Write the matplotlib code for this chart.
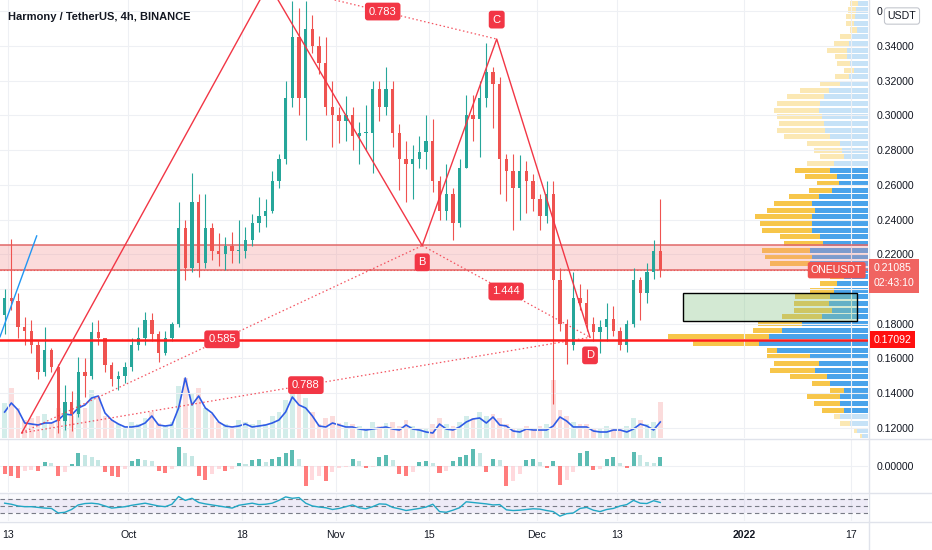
import numpy as np
import pandas as pd
import matplotlib
matplotlib.use('Agg')
import matplotlib.pyplot as plt
from matplotlib.patches import Rectangle
from matplotlib.ticker import FuncFormatter
from matplotlib.transforms import blended_transform_factory

plt.rcParams['font.family'] = ['Liberation Sans', 'DejaVu Sans']

# ── Data (daily bars, day 0 = 13 Sep 2021) ─────────────────────────────────
ORIGIN = pd.Timestamp('2021-09-13')
FIRST_DAY = -1
FIRST_OPEN = 0.185

highs = [0.200, 0.229, 0.198, 0.184, 0.182, 0.170, 0.178, 0.166, 0.157, 0.145,
         0.141, 0.161, 0.160, 0.181, 0.182, 0.172, 0.158, 0.153, 0.158, 0.172,
         0.178, 0.187, 0.186, 0.176, 0.176, 0.181, 0.250, 0.240, 0.267, 0.255,
         0.255, 0.238, 0.232, 0.230, 0.233, 0.240, 0.236, 0.243, 0.253, 0.252,
         0.268, 0.278, 0.320, 0.366, 0.362, 0.366, 0.358, 0.346, 0.345, 0.320,
         0.305, 0.311, 0.305, 0.296, 0.306, 0.320, 0.320, 0.328, 0.320, 0.295,
         0.285, 0.283, 0.288, 0.300, 0.298, 0.265, 0.272, 0.258, 0.275, 0.312,
         0.312, 0.320, 0.342, 0.328, 0.322, 0.278, 0.278, 0.277, 0.274, 0.266,
         0.255, 0.262, 0.262, 0.212, 0.183, 0.210, 0.203, 0.200, 0.184, 0.182,
         0.192, 0.190, 0.178, 0.182, 0.212, 0.207, 0.215, 0.228, 0.252]
lows = [0.174, 0.188, 0.172, 0.168, 0.163, 0.148, 0.150, 0.152, 0.117, 0.119,
        0.118, 0.126, 0.138, 0.148, 0.168, 0.152, 0.144, 0.142, 0.146, 0.153,
        0.165, 0.168, 0.170, 0.158, 0.162, 0.170, 0.178, 0.205, 0.210, 0.207,
        0.212, 0.217, 0.213, 0.211, 0.215, 0.215, 0.218, 0.225, 0.233, 0.236,
        0.244, 0.258, 0.272, 0.305, 0.300, 0.286, 0.336, 0.324, 0.300, 0.282,
        0.284, 0.285, 0.280, 0.272, 0.280, 0.267, 0.297, 0.300, 0.282, 0.257,
        0.250, 0.252, 0.270, 0.269, 0.256, 0.240, 0.240, 0.228, 0.236, 0.270,
        0.285, 0.276, 0.305, 0.293, 0.255, 0.251, 0.234, 0.240, 0.244, 0.245,
        0.234, 0.238, 0.134, 0.176, 0.157, 0.165, 0.188, 0.176, 0.170, 0.163,
        0.170, 0.173, 0.165, 0.164, 0.178, 0.182, 0.192, 0.206, 0.207]
closes = [0.195, 0.193, 0.178, 0.176, 0.168, 0.152, 0.165, 0.155, 0.124, 0.135,
          0.128, 0.152, 0.150, 0.175, 0.172, 0.156, 0.148, 0.150, 0.155, 0.168,
          0.172, 0.182, 0.174, 0.163, 0.172, 0.180, 0.235, 0.212, 0.250, 0.215,
          0.235, 0.222, 0.220, 0.225, 0.222, 0.222, 0.228, 0.238, 0.242, 0.245,
          0.262, 0.275, 0.310, 0.345, 0.310, 0.350, 0.340, 0.330, 0.305, 0.300,
          0.297, 0.300, 0.288, 0.290, 0.290, 0.315, 0.305, 0.315, 0.290, 0.275,
          0.272, 0.275, 0.279, 0.285, 0.262, 0.245, 0.255, 0.238, 0.270, 0.300,
          0.298, 0.310, 0.325, 0.318, 0.275, 0.268, 0.258, 0.268, 0.262, 0.252,
          0.242, 0.255, 0.205, 0.180, 0.168, 0.195, 0.192, 0.180, 0.175, 0.178,
          0.183, 0.176, 0.168, 0.180, 0.205, 0.198, 0.210, 0.222, 0.21085]

volume = [35, 50, 30, 18, 20, 22, 24, 16, 30, 32,
          22, 38, 30, 48, 40, 22, 18, 14, 12, 16,
          14, 20, 26, 15, 12, 16, 52, 60, 45, 50,
          30, 24, 16, 14, 12, 18, 16, 14, 18, 14,
          22, 26, 38, 52, 45, 40, 26, 14, 20, 22,
          15, 16, 14, 12, 10, 16, 12, 15, 16, 12,
          18, 12, 10, 10, 14, 20, 14, 12, 16, 22,
          20, 26, 22, 24, 20, 14, 10, 10, 12, 10,
          12, 14, 58, 28, 22, 16, 14, 14, 10, 10,
          12, 10, 10, 12, 20, 18, 14, 16, 36]
vol_ma = [26, 35, 28, 15, 14, 13, 15, 15, 18, 24,
          23, 30, 33, 40, 42, 25, 18, 14, 11, 11,
          12, 15, 22, 13, 12, 13, 30, 60, 33, 42,
          30, 25, 16, 12, 11, 12, 14, 11, 12, 13,
          15, 18, 26, 41, 33, 30, 22, 12, 11, 15,
          13, 11, 11, 9, 8, 9, 10, 11, 9, 8,
          13, 9, 8, 6, 5, 14, 9, 8, 11, 16,
          19, 20, 15, 21, 13, 12, 7, 6, 9, 8,
          8, 8, 12, 21, 17, 11, 11, 11, 7, 6,
          6, 8, 8, 6, 9, 14, 12, 8, 16]
macd_hist = [-8, -10, -12, -5, -4, -5, 3, 2, -10, -6,
             1, 12, 10, 8, 5, -6, -10, -11, -3, 4,
             6, 5, 4, -5, -7, -3, 18, 12, 9, -10,
             -14, -8, -3, -5, -3, 2, 1, 5, 6, 3,
             6, 8, 12, 15, 6, -20, -14, -10, -15, -6,
             -2, -1, 6, 4, -2, -1, 8, 10, 5, -8,
             -10, -6, 3, 4, 2, -7, -5, 4, 8, 10,
             16, 12, -6, 6, 5, -20, -15, -8, 5, 6,
             3, -2, 4, -19, -14, -6, 12, 14, -4, -3,
             6, 8, 2, -2, 13, 10, 3, 2, 8]
rsi = [58, 55, 50, 48, 48, 46, 44, 43, 30, 32,
       40, 53, 57, 58, 56, 50, 44, 46, 48, 52,
       55, 58, 54, 50, 48, 55, 77, 66, 72, 60,
       56, 53, 50, 47, 44, 52, 55, 58, 54, 55,
       58, 66, 76, 72, 74, 58, 50, 47, 45, 40,
       43, 48, 53, 45, 42, 48, 56, 55, 46, 42,
       37, 40, 43, 47, 55, 34, 32, 38, 45, 62,
       60, 58, 56, 53, 54, 39, 37, 38, 40, 42,
       41, 37, 34, 21, 28, 30, 43, 46, 38, 34,
       40, 43, 50, 54, 66, 58, 57, 65, 60]

# visible range volume profile, rows from the top of the chart downwards
VP_TOP = 0.36458
VP_STEP = 0.003842
VALUE_AREA = (0.128, 0.2705)
vp_total = [18.4, 20.4, 21.7, 21.7, 17.7, 27.7, 34.4, 41, 32.7, 31,
            24.4, 32.7, 47.7, 67.7, 81, 91, 94.4, 91, 89.4, 91,
            84.4, 61, 54.4, 47.7, 61, 72.7, 62.7, 51, 59.4, 79.4,
            94.4, 101, 112.7, 107.7, 106, 87.7, 84.4, 106, 102.7, 97.7,
            51, 37.7, 47.7, 57.7, 72.7, 74.4, 74.4, 86, 110, 115,
            200, 175, 101, 101, 94.4, 97.7, 77.7, 56, 37.7, 61,
            54.4, 46, 34.4, 27.7, 14.4, 8]
vp_up = [10.4, 11.7, 12.7, 14.4, 11, 16, 19.4, 21, 21, 17.7,
         14.4, 19.4, 27.7, 39.4, 44.4, 47.7, 49.4, 46, 44.4, 42.7,
         37.7, 27.7, 26, 24.4, 34.4, 37.7, 31, 29.4, 36, 49.4,
         56, 52.7, 56, 56, 56, 47.7, 45, 57.7, 56, 57.7,
         27.7, 24.4, 31, 34.4, 37.7, 39.4, 36, 46, 66, 86,
         99.4, 109, 91, 57.7, 49.4, 52.7, 41, 37.7, 24.4, 27.7,
         27.7, 24.4, 27.7, 17.7, 11, 6]

# drawings
pattern_days = [2.05, 38.97, 61.92, 73.05, 87.0]          # X A B C D
pattern_prices = [0.1171, 0.3757, 0.2250, 0.3440, 0.1722]
ratio_legs = [(0, 2, '0.585'), (1, 3, '0.783'), (2, 4, '1.444'), (0, 4, '0.788')]
BAND = (0.2112, 0.2255)
LAST_PRICE = 0.21085
SUPPORT = 0.17092
BOX_DAYS = (100.85, 126.9)
BOX_PRICES = (0.1816, 0.1976)
TREND_DAYS = [-1.196, 4.29]
TREND_PRICES = [0.1725, 0.2306]

PRICE_TICKS = [0.12, 0.14, 0.16, 0.18, 0.20, 0.22, 0.24, 0.26, 0.28, 0.30,
               0.32, 0.34, 0.36]
# ticks whose label sits under an overlay on the price scale
HIDDEN_TICKS = {0.20: '', 0.36: '0'}
TICK_DATES = ['2021-09-13', '2021-10-01', '2021-10-18', '2021-11-01', '2021-11-15',
              '2021-12-01', '2021-12-13', '2022-01-01', '2022-01-17']
TICK_LABELS = ['13', 'Oct', '18', 'Nov', '15', 'Dec', '13', '2022', '17']

# ── Style ───────────────────────────────────────────────────────────────────
UP, DOWN = '#26a69a', '#ef5350'
PAT = '#f23645'
GRID = '#eef0f4'
SEP = '#e0e3eb'
TXT = '#131722'
FS = 7.6

W, H = 932, 550
PX_PER_DAY = 6.69
XLIM = (-8 / PX_PER_DAY, 860 / PX_PER_DAY)


def frac(x0, y0, x1, y1):
    return [x0 / W, 1 - y1 / H, (x1 - x0) / W, (y1 - y0) / H]


def price_fmt(v, _pos):
    for t, lab in HIDDEN_TICKS.items():
        if abs(v - t) < 1e-9:
            return lab
    return f'{v:.5f}'


days = np.arange(FIRST_DAY, FIRST_DAY + len(closes)) + 0.5
opens = [FIRST_OPEN] + closes[:-1]
o, c = np.array(opens), np.array(closes)
cols = [UP if cc >= oo else DOWN for oo, cc in zip(o, c)]
tick_pos = [(pd.Timestamp(t) - ORIGIN).days for t in TICK_DATES]

fig = plt.figure(figsize=(W / 100, H / 100), dpi=100)
fig.patch.set_facecolor('white')

ax = fig.add_axes(frac(0, 0, 868, 438))
vax = ax.twinx()
vpax = ax.twiny()
ax.set_zorder(3); vpax.set_zorder(2); vax.set_zorder(1)
for a in (ax, vax, vpax):
    a.patch.set_visible(False)
ax.set_xlim(*XLIM)
ax.set_ylim(0.11419, 0.36650)

# volume + its moving average
vax.set_ylim(0, 438)
vax.bar(days, volume, width=0.7, color=cols, alpha=0.2, lw=0)
vax.plot(days, vol_ma, color='#2f5be6', lw=1.2)
vax.axis('off')

# volume profile (bars grow leftwards from the right edge)
vpax.set_xlim(868, 0)
levels = VP_TOP - VP_STEP * np.arange(len(vp_total))
in_va = (levels >= VALUE_AREA[0]) & (levels <= VALUE_AREA[1])
vpax.barh(levels, vp_total, height=0.0029, left=0,
          color=np.where(in_va, '#f7c64a', '#fbe8b4'), lw=0)
vpax.barh(levels, vp_up, height=0.0029, left=0,
          color=np.where(in_va, '#4aa3ea', '#c6e2f7'), lw=0)
vpax.axis('off')

# candles
ax.vlines(days, lows, highs, colors=cols, lw=0.8, zorder=2)
ax.bar(days, np.maximum(np.abs(c - o), 0.0006), bottom=np.minimum(o, c),
       width=0.5, color=cols, lw=0, zorder=3)

# zones and levels
ax.axhspan(*BAND, fc='#f48a8a', alpha=0.3, lw=0, zorder=1)
for lv in BAND:
    ax.axhline(lv, color='#e06868', lw=1.1, zorder=1.5)
ax.axhline(LAST_PRICE, color=DOWN, lw=0.8, ls=(0, (1, 2)), zorder=1.5)
ax.axhline(SUPPORT, color='#ff1c1c', lw=1.8, zorder=4)
ax.add_patch(Rectangle((BOX_DAYS[0], BOX_PRICES[0]), BOX_DAYS[1] - BOX_DAYS[0],
                       BOX_PRICES[1] - BOX_PRICES[0], fc=(0.55, 0.78, 0.55, 0.38),
                       ec='black', lw=1, zorder=4))
ax.plot(TREND_DAYS, TREND_PRICES, color='#2196f3', lw=1, zorder=4)

# harmonic XABCD pattern
ax.plot(pattern_days, pattern_prices, color=PAT, lw=1, zorder=4)
box = dict(boxstyle='round,pad=0.35,rounding_size=0.25', fc=PAT, ec='none')
for i, j, txt in ratio_legs:
    ax.plot([pattern_days[i], pattern_days[j]], [pattern_prices[i], pattern_prices[j]],
            color=PAT, lw=0.9, ls=(0, (1.2, 2)), alpha=0.85, zorder=4)
    ax.text((pattern_days[i] + pattern_days[j]) / 2,
            (pattern_prices[i] + pattern_prices[j]) / 2, txt,
            ha='center', va='center', fontsize=8, color='white', bbox=box, zorder=6)
for k, name, dy in [(2, 'B', -12), (3, 'C', 14), (4, 'D', -13)]:
    ax.annotate(name, (pattern_days[k], pattern_prices[k]), xytext=(0, dy),
                textcoords='offset points', ha='center', va='center', fontsize=8,
                color='white', bbox=box, zorder=6)

# axes cosmetics
for s in ax.spines.values():
    s.set_visible(False)
ax.set_xticks(tick_pos)
ax.set_yticks(PRICE_TICKS)
ax.yaxis.tick_right()
ax.yaxis.set_major_formatter(FuncFormatter(price_fmt))
ax.tick_params(axis='y', length=0, pad=6.5, labelsize=FS, labelcolor=TXT)
ax.tick_params(axis='x', length=0, labelbottom=False, labeltop=False)
ax.grid(color=GRID, lw=0.8)
ax.set_axisbelow(True)

# right-hand labels
yb = blended_transform_factory(ax.transAxes, ax.transData)
ax.annotate('ONEUSDT', (1.0, LAST_PRICE), xycoords=yb, xytext=(-4, 0),
            textcoords='offset points', ha='right', va='center', fontsize=FS,
            color='white', zorder=10, annotation_clip=False,
            bbox=dict(boxstyle='round,pad=0.3,rounding_size=0.2', fc=DOWN, ec='none'))
ax.annotate('0.21085\n02:43:10', (1.0, LAST_PRICE), xycoords=yb, xytext=(4, 5),
            textcoords='offset points', ha='left', va='top', fontsize=FS,
            color='white', zorder=10, annotation_clip=False, linespacing=1.6,
            bbox=dict(boxstyle='square,pad=0.45', fc='#f06461', ec='none'))
ax.annotate(f'{SUPPORT:.5f}', (1.0, SUPPORT), xycoords=yb, xytext=(4, 0),
            textcoords='offset points', ha='left', va='center', fontsize=FS,
            color='white', zorder=10, annotation_clip=False,
            bbox=dict(boxstyle='square,pad=0.35', fc='#ff1010', ec='none'))

# MACD histogram pane
mac = fig.add_axes(frac(0, 439, 868, 492), sharex=ax)
mcols, prev = [], 0
for v in macd_hist:
    if v >= 0:
        mcols.append('#26a69a' if v >= prev else '#b2dfdb')
    else:
        mcols.append('#ff5252' if v <= prev else '#ffcdd2')
    prev = v
mac.bar(days, macd_hist, width=0.6, color=mcols, alpha=0.75, lw=0)
mac.set_ylim(-26, 26)
mac.yaxis.tick_right()
mac.set_yticks([0])
mac.set_yticklabels(['0.00000'])
mac.tick_params(axis='y', length=0, pad=6.5, labelsize=FS, labelcolor=TXT)
mac.tick_params(axis='x', length=0, labelbottom=False)
mac.grid(color=GRID, lw=0.8)
mac.set_axisbelow(True)
mac.patch.set_visible(False)
for s in mac.spines.values():
    s.set_visible(False)

# RSI pane
rax = fig.add_axes(frac(0, 493, 868, 521), sharex=ax)
rax.axhspan(30, 70, color='#7e57c2', alpha=0.09, lw=0)
for lv in (70, 50, 30):
    rax.axhline(lv, color='#787b86', lw=0.8, ls=(0, (4, 3)))
rax.plot(days, rsi, color='#22a7c4', lw=1)
rax.set_ylim(7.1, 87.1)
rax.set_yticks([])
rax.tick_params(axis='x', length=0, labelbottom=False)
rax.grid(axis='x', color=GRID, lw=0.8)
rax.set_axisbelow(True)
rax.patch.set_facecolor('#fafafd')
for s in rax.spines.values():
    s.set_visible(False)
xt = rax.get_xaxis_transform()
for pos, lab in zip(tick_pos, TICK_LABELS):
    rax.text(pos, -0.5, lab, transform=xt, ha='center', va='center', fontsize=FS,
             color=TXT, fontweight='bold' if lab == '2022' else 'normal', clip_on=False)

# pane separators and price-scale border
for yy in (438.5, 492.5, 521.5):
    fig.add_artist(plt.Line2D([0, 1], [1 - yy / H] * 2, transform=fig.transFigure,
                              color=SEP, lw=1))
fig.add_artist(plt.Line2D([868.5 / W] * 2, [0, 1], transform=fig.transFigure,
                          color=SEP, lw=1))

fig.text(8 / W, 1 - 17 / H, 'Harmony / TetherUS, 4h, BINANCE', fontsize=8,
         fontweight='bold', color=TXT, va='center', ha='left', zorder=20)
fig.text(902 / W, 1 - 16 / H, 'USDT', fontsize=FS, color=TXT, va='center',
         ha='center', zorder=20,
         bbox=dict(boxstyle='round,pad=0.3,rounding_size=0.25', fc='white', ec='#c4c7ce',
                   lw=0.8))

fig.savefig('out.png', dpi=100)
